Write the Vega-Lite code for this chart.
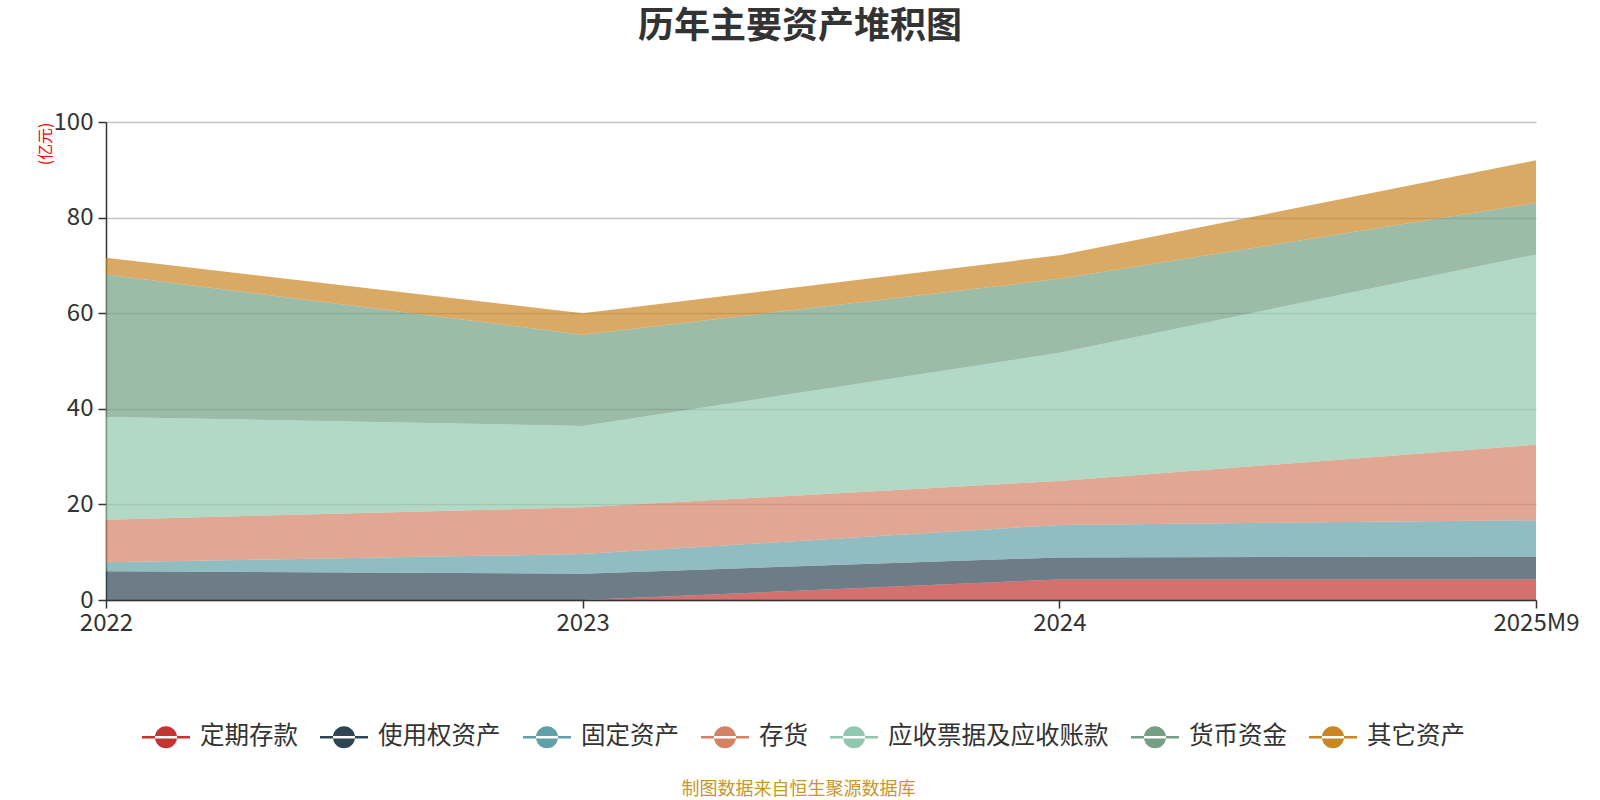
{
  "$schema": "https://vega.github.io/schema/vega-lite/v6.json",
  "width": 1600,
  "height": 800,
  "autosize": {"type": "fit", "contains": "padding"},
  "padding": {"left": 37, "top": 9, "right": 20, "bottom": 2},
  "background": "#ffffff",
  "config": {
    "font": "Noto Sans CJK SC",
    "view": {"stroke": null}
  },
  "title": {
    "text": "历年主要资产堆积图",
    "fontSize": 36,
    "fontWeight": "bold",
    "color": "#333333",
    "anchor": "middle",
    "offset": 64,
    "dx": -21
  },
  "data": {
    "values": [
      {"year": "2022", "type": "定期存款", "value": 0},
      {"year": "2022", "type": "使用权资产", "value": 6.0},
      {"year": "2022", "type": "固定资产", "value": 1.9},
      {"year": "2022", "type": "存货", "value": 8.9},
      {"year": "2022", "type": "应收票据及应收账款", "value": 21.5},
      {"year": "2022", "type": "货币资金", "value": 29.8},
      {"year": "2022", "type": "其它资产", "value": 3.5},
      {"year": "2023", "type": "定期存款", "value": 0},
      {"year": "2023", "type": "使用权资产", "value": 5.5},
      {"year": "2023", "type": "固定资产", "value": 4.1},
      {"year": "2023", "type": "存货", "value": 9.8},
      {"year": "2023", "type": "应收票据及应收账款", "value": 17.0},
      {"year": "2023", "type": "货币资金", "value": 19.1},
      {"year": "2023", "type": "其它资产", "value": 4.5},
      {"year": "2024", "type": "定期存款", "value": 4.3},
      {"year": "2024", "type": "使用权资产", "value": 4.6},
      {"year": "2024", "type": "固定资产", "value": 6.8},
      {"year": "2024", "type": "存货", "value": 9.2},
      {"year": "2024", "type": "应收票据及应收账款", "value": 26.8},
      {"year": "2024", "type": "货币资金", "value": 15.5},
      {"year": "2024", "type": "其它资产", "value": 4.9},
      {"year": "2025M9", "type": "定期存款", "value": 4.3},
      {"year": "2025M9", "type": "使用权资产", "value": 4.8},
      {"year": "2025M9", "type": "固定资产", "value": 7.6},
      {"year": "2025M9", "type": "存货", "value": 15.8},
      {"year": "2025M9", "type": "应收票据及应收账款", "value": 39.8},
      {"year": "2025M9", "type": "货币资金", "value": 10.8},
      {"year": "2025M9", "type": "其它资产", "value": 8.9}
    ]
  },
  "transform": [
    {"calculate": "indexof(['定期存款','使用权资产','固定资产','存货','应收票据及应收账款','货币资金','其它资产'], datum.type)", "as": "stackIndex"}
  ],
  "mark": {"type": "area", "opacity": 0.7},
  "encoding": {
    "x": {
      "field": "year",
      "type": "ordinal",
      "scale": {"type": "point", "padding": 0},
      "axis": {
        "title": "制图数据来自恒生聚源数据库",
        "titleColor": "#c8962a",
        "titleFontSize": 18,
        "titleFontWeight": "normal",
        "titleY": 180,
        "titleX": 692,
        "labelAngle": 0,
        "labelFontSize": 24,
        "labelColor": "#333333",
        "labelPadding": 3,
        "domainColor": "#333333",
        "domainWidth": 1.5,
        "tickColor": "#333333",
        "tickSize": 8,
        "tickWidth": 1.5,
        "grid": false,
        "zindex": 1
      }
    },
    "y": {
      "field": "value",
      "type": "quantitative",
      "stack": "zero",
      "scale": {"domain": [0, 100], "nice": false},
      "axis": {
        "values": [0, 20, 40, 60, 80, 100],
        "title": "(亿元)",
        "titleColor": "#ff0000",
        "titleFontSize": 16,
        "titleFontWeight": "normal",
        "titleAnchor": "end",
        "titleX": -61,
        "titleY": 0,
        "titleAlign": "right",
        "titleBaseline": "middle",
        "labelFontSize": 24,
        "labelColor": "#333333",
        "labelPadding": 5,
        "domainColor": "#333333",
        "domainWidth": 1.5,
        "tickColor": "#333333",
        "tickSize": 8,
        "tickWidth": 1.5,
        "grid": true,
        "gridColor": "#c4c4c4",
        "gridWidth": 1.5
      }
    },
    "order": {"field": "stackIndex", "type": "quantitative", "sort": "ascending"},
    "color": {
      "field": "type",
      "type": "nominal",
      "sort": ["定期存款", "使用权资产", "固定资产", "存货", "应收票据及应收账款", "货币资金", "其它资产"],
      "scale": {
        "domain": ["定期存款", "使用权资产", "固定资产", "存货", "应收票据及应收账款", "货币资金", "其它资产"],
        "range": ["#c23531", "#2f4554", "#61a0a8", "#d48265", "#91c7ae", "#749f83", "#ca8622"]
      },
      "legend": {
        "orient": "none",
        "direction": "horizontal",
        "legendX": 36,
        "legendY": 591,
        "title": null,
        "symbolType": "M-1,-0.05 L1,-0.05 L1,0.05 L-1,0.05 Z M-0.46,0 A0.46,0.46 0 1,0 0.46,0 A0.46,0.46 0 1,0 -0.46,0 Z",
        "symbolSize": 2304,
        "symbolOpacity": 1,
        "symbolStrokeWidth": 0,
        "labelFontSize": 24.5,
        "labelColor": "#333333",
        "labelOffset": 10,
        "labelLimit": 400,
        "columnPadding": 22
      }
    }
  }
}
